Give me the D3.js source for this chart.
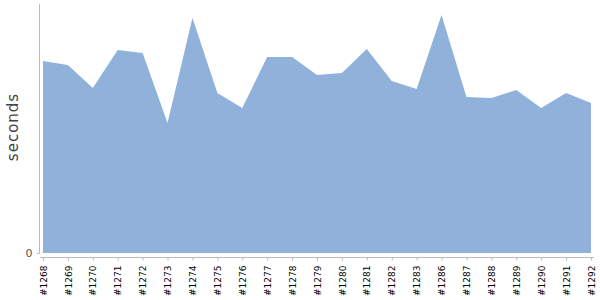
<!DOCTYPE html>
<html>
<head>
<meta charset="utf-8">
<script src="https://cdn.jsdelivr.net/npm/d3@7"></script>
<style>
  body { margin: 0; background: #fff; }
  text { font-family: "DejaVu Sans", sans-serif; }
</style>
</head>
<body>
<script>
// build numbers and their durations (seconds)
var builds = ["#1268","#1269","#1270","#1271","#1272","#1273","#1274","#1275","#1276","#1277","#1278","#1279",
              "#1280","#1281","#1282","#1283","#1286","#1287","#1288","#1289","#1290","#1291","#1292"];
var durations = [192,188,165,203,200,130,235,160,145,196,196,178,
                 180,204,172,164,238,156,155,163,145,160,150];
var yTicks = [0];

var width = 600,
    height = 300;

var x = d3.scalePoint()
    .domain(builds)
    .range([43, 591]);

var y = d3.scaleLinear()
    .domain([0, 250])
    .range([253, 3]);

var svg = d3.select("body").append("svg")
    .attr("width", width)
    .attr("height", height);

var data = builds.map(function(b, i) { return {build: b, value: durations[i]}; });

var area = d3.area()
    .x(function(d) { return x(d.build); })
    .y0(y(0))
    .y1(function(d) { return y(d.value); });

svg.append("path")
    .datum(data)
    .attr("fill", "#8fb1da")
    .attr("d", area);

// y axis
var yAxis = svg.append("g")
    .attr("transform", "translate(39.5,0)")
    .call(d3.axisLeft(y).tickValues(yTicks).tickSize(3).tickPadding(4));
yAxis.select(".domain").attr("d", "M0,4V253").attr("stroke", "#bbb");
yAxis.selectAll(".tick line").attr("stroke", "#bbb");
yAxis.selectAll(".tick text")
    .attr("fill", "#555")
    .style("font-size", "11px");

// x axis
var xAxis = svg.append("g")
    .attr("transform", "translate(0,257.5)")
    .call(d3.axisBottom(x).tickSize(3));
xAxis.select(".domain").attr("d", "M40,0H594").attr("stroke", "#bbb");
xAxis.selectAll(".tick line").attr("stroke", "#bbb");
xAxis.selectAll(".tick text")
    .attr("fill", "#000")
    .style("font-size", "9px")
    .attr("text-anchor", "end")
    .attr("transform", "rotate(-90)")
    .attr("x", -8)
    .attr("y", 0)
    .attr("dy", "0.35em");

svg.append("text")
    .attr("transform", "translate(17.5,127) rotate(-90)")
    .attr("text-anchor", "middle")
    .attr("fill", "#444")
    .style("font-size", "15px")
    .style("letter-spacing", "1px")
    .text("seconds");
</script>
</body>
</html>
